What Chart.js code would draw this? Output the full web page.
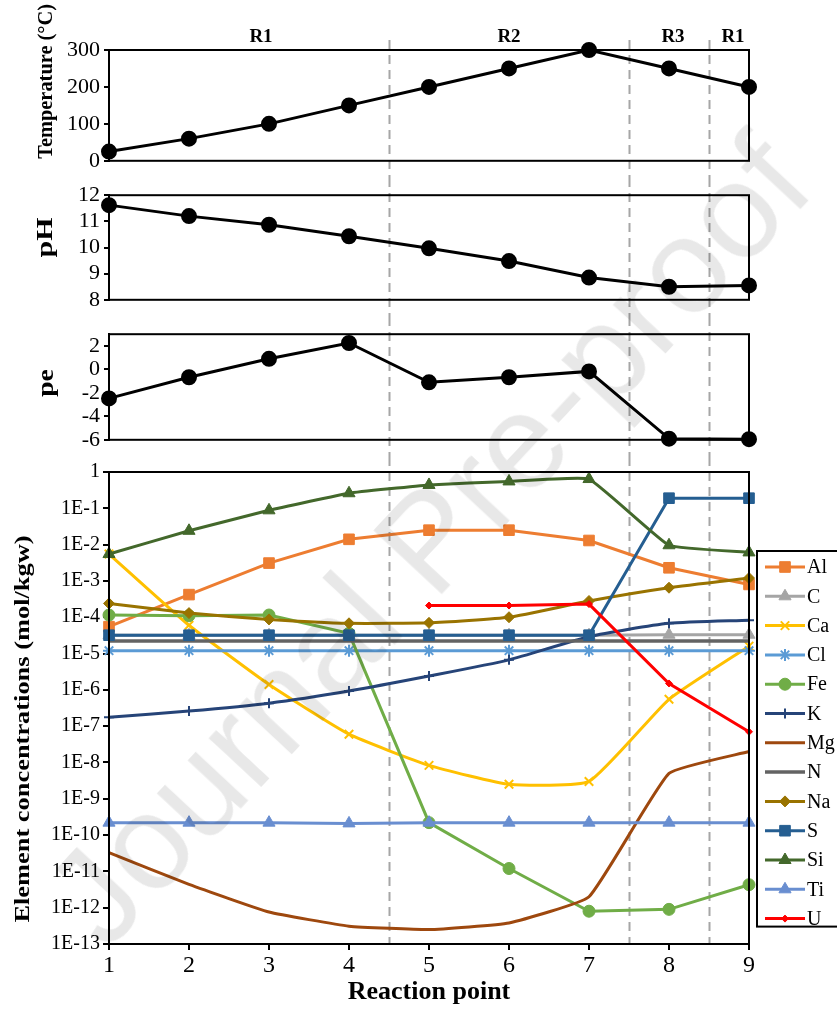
<!DOCTYPE html>
<html>
<head>
<meta charset="utf-8">
<script src="https://cdn.jsdelivr.net/npm/chart.js@4.4.1/dist/chart.umd.min.js"></script>
<style>
  html, body { margin: 0; padding: 0; background: #fff; }
  #wrap { position: relative; width: 837px; height: 1010px; overflow: hidden; }
  #wrap canvas { position: absolute; left: 0; }
  #mark {
    position: absolute; left: 428px; top: 540px;
    transform: translate(-50%, -50%) rotate(-47deg);
    font: 135px 'Liberation Sans', Arial, sans-serif;
    color: rgba(0, 0, 0, 0.09); white-space: nowrap; pointer-events: none;
  }
</style>
</head>
<body>
<div id="wrap">
  <canvas id="tempChart" width="837" height="178" style="top:0px"></canvas>
  <canvas id="phChart" width="837" height="139" style="top:178px"></canvas>
  <canvas id="peChart" width="837" height="140" style="top:317px"></canvas>
  <canvas id="concChart" width="837" height="553" style="top:457px"></canvas>
  <div id="mark">Journal Pre-proof</div>
</div>
<script>
// reaction points (x axis)
const reactionPoints = [1, 2, 3, 4, 5, 6, 7, 8, 9];
const xTicks = [1, 2, 3, 4, 5, 6, 7, 8, 9];

// region boundaries and labels
const regionBounds = [4.5, 7.5, 8.5];
const regionLabels = ['R1', 'R2', 'R3', 'R1'];
const regionLabelAt = [2.9, 6, 8.05, 8.8];

// upper panels
const temperature = [25, 60, 100, 150, 200, 250, 300, 250, 200];
const tempTicks = [0, 100, 200, 300];
const pH = [11.62, 11.2, 10.87, 10.43, 9.97, 9.48, 8.85, 8.5, 8.55];
const phTicks = [8, 9, 10, 11, 12];
const pe = [-2.47, -0.67, 0.9, 2.25, -1.1, -0.67, -0.17, -5.9, -5.95];
const peTicks = [-6, -4, -2, 0, 2];

// element concentrations (mol/kgw)
const elements = ['Al', 'C', 'Ca', 'Cl', 'Fe', 'K', 'Mg', 'N', 'Na', 'S', 'Si', 'Ti', 'U'];
const Al = [5.5e-5, 4.2e-4, 3.1e-3, 1.4e-2, 2.5e-2, 2.5e-2, 1.3e-2, 2.3e-3, 8e-4];
const C  = [3.2e-5, 3.2e-5, 3.2e-5, 3.2e-5, 3.2e-5, 3.2e-5, 3.2e-5, 3.3e-5, 3.3e-5];
const Ca = [5.5e-3, 6e-5, 1.4e-6, 6e-8, 8.3e-9, 2.5e-9, 3e-9, 5.5e-7, 1.6e-5];
const Cl = [1.2e-5, 1.2e-5, 1.2e-5, 1.2e-5, 1.2e-5, 1.2e-5, 1.2e-5, 1.2e-5, 1.2e-5];
const Fe = [1.15e-4, 1.1e-4, 1.15e-4, 3.6e-5, 2.2e-10, 1.2e-11, 8e-13, 9e-13, 4.3e-12];
const K  = [1.75e-7, 2.6e-7, 4.3e-7, 9.3e-7, 2.4e-6, 6.7e-6, 2.9e-5, 6.8e-5, 8.3e-5];
const Mg = [3.3e-11, 4.4e-12, 7.6e-13, 3.1e-13, 2.5e-13, 3.8e-13, 2e-12, 5e-9, 2e-8];
const N  = [2.2e-5, 2.2e-5, 2.2e-5, 2.2e-5, 2.2e-5, 2.2e-5, 2.2e-5, 2.2e-5, 2.2e-5];
const Na = [2.4e-4, 1.3e-4, 8.7e-5, 6.8e-5, 7e-5, 1e-4, 2.8e-4, 6.5e-4, 1.2e-3];
const S  = [3.2e-5, 3.2e-5, 3.2e-5, 3.2e-5, 3.2e-5, 3.2e-5, 3.2e-5, 0.19, 0.19];
const Si = [5.5e-3, 2.4e-2, 8.8e-2, 0.26, 0.44, 0.55, 0.64, 9.6e-3, 6.1e-3];
const Ti = [2.2e-10, 2.2e-10, 2.2e-10, 2.1e-10, 2.2e-10, 2.2e-10, 2.2e-10, 2.2e-10, 2.2e-10];
const U  = [null, null, null, null, 2.1e-4, 2.1e-4, 2.3e-4, 1.5e-6, 7e-8];
const concSeries = [Al, C, Ca, Cl, Fe, K, Mg, N, Na, S, Si, Ti, U];
const logTicks = [1, 1e-1, 1e-2, 1e-3, 1e-4, 1e-5, 1e-6, 1e-7, 1e-8, 1e-9, 1e-10, 1e-11, 1e-12, 1e-13];

// series styling
const elementColors = ['#ED7D31', '#A5A5A5', '#FFC000', '#5B9BD5', '#70AD47', '#264478', '#9E480E',
  '#636363', '#997300', '#255E91', '#43682B', '#698ED0', '#FF0000'];
const elementMarkers = ['rect', 'triangle', 'crossRot', 'star', 'circle', 'cross', 'circle',
  'circle', 'rectRot', 'rect', 'triangle', 'triangle', 'rectRot'];
const markerSizes = [7.5, 7, 6, 6, 6, 5, 0, 0, 5.5, 7.5, 7, 7, 3.5];
const lineTension = [0, 0, 0.15, 0, 0, 0.2, 0.12, 0, 0.15, 0, 0.1, 0, 0];

const serif = "'Liberation Serif', 'Times New Roman', serif";
Chart.defaults.font.family = serif;
Chart.defaults.color = '#000';

// dashed region boundaries, drawn across the whole canvas height
const regionLines = {
  id: 'regionLines',
  beforeDatasetsDraw(chart, args, opts) {
    const { ctx, chartArea, scales: { x } } = chart;
    const top = opts.fromTop != null ? chartArea.top - opts.fromTop : 0;
    const bottom = opts.toAxis ? chartArea.bottom : chart.height;
    ctx.save();
    ctx.strokeStyle = '#A6A6A6';
    ctx.lineWidth = 2;
    ctx.setLineDash([9, 6]);
    regionBounds.forEach(v => {
      const px = Math.round(x.getPixelForValue(v)) + 0.5;
      ctx.beginPath();
      ctx.moveTo(px, top);
      ctx.lineTo(px, bottom);
      ctx.stroke();
    });
    ctx.restore();
  }
};

// black box around each plot area
const frame = {
  id: 'frame',
  afterDatasetsDraw(chart) {
    const { ctx, chartArea: a } = chart;
    ctx.save();
    ctx.strokeStyle = '#000';
    ctx.lineWidth = 2;
    ctx.strokeRect(a.left, a.top, a.right - a.left, a.bottom - a.top);
    ctx.restore();
  }
};

// rotated y title, slightly stretched along its length like the original
const sideTitle = {
  id: 'sideTitle',
  afterDraw(chart, args, opts) {
    if (!opts.text) return;
    const { ctx, chartArea } = chart;
    const cy = (chartArea.top + chartArea.bottom) / 2 + (opts.dy || 0);
    ctx.save();
    ctx.translate(opts.x, cy);
    ctx.rotate(-Math.PI / 2);
    ctx.scale(opts.stretch || 1, 1);
    ctx.font = 'bold ' + opts.size + 'px ' + serif;
    ctx.fillStyle = '#000';
    ctx.textAlign = 'center';
    ctx.textBaseline = 'middle';
    ctx.fillText(opts.text, 0, 0);
    ctx.restore();
  }
};

// R1/R2/R3 labels above the top panel
const regionTitles = {
  id: 'regionTitles',
  afterDraw(chart) {
    const { ctx, chartArea, scales: { x } } = chart;
    ctx.save();
    ctx.font = 'bold 19px ' + serif;
    ctx.fillStyle = '#000';
    ctx.textAlign = 'center';
    ctx.textBaseline = 'middle';
    regionLabels.forEach((t, i) => {
      ctx.fillText(t, x.getPixelForValue(regionLabelAt[i]), chartArea.top - 13);
    });
    ctx.restore();
  }
};

// boxed legend to the right of the concentration panel
const boxLegend = {
  id: 'boxLegend',
  afterDraw(chart, args, opts) {
    const { ctx, chartArea } = chart;
    const left = chartArea.right + opts.offsetX;
    const top = chartArea.top + opts.offsetY;
    const n = chart.data.datasets.length;
    const h = opts.firstRow + (n - 1) * opts.rowHeight + opts.padBottom;
    ctx.save();
    ctx.fillStyle = '#fff';
    ctx.fillRect(left, top, 200, h);
    ctx.strokeStyle = '#000';
    ctx.lineWidth = 2;
    ctx.strokeRect(left, top, 200, h);
    ctx.font = '20px ' + serif;
    ctx.textBaseline = 'middle';
    chart.data.datasets.forEach((ds, i) => {
      const y = top + opts.firstRow + i * opts.rowHeight;
      ctx.strokeStyle = ds.borderColor;
      ctx.lineWidth = ds.borderWidth;
      ctx.beginPath();
      ctx.moveTo(left + 8, y);
      ctx.lineTo(left + 48, y);
      ctx.stroke();
      if (ds.pointRadius > 0) {
        ctx.fillStyle = ds.pointBackgroundColor;
        ctx.strokeStyle = ds.pointBorderColor;
        ctx.lineWidth = ds.pointBorderWidth;
        Chart.helpers.drawPoint(ctx, {
          pointStyle: ds.pointStyle, radius: ds.pointRadius,
          borderWidth: ds.pointBorderWidth, rotation: 0
        }, left + 28, y);
      }
      ctx.fillStyle = '#000';
      ctx.fillText(ds.label, left + 50, y + 1);
    });
    ctx.restore();
  }
};

function fixedY(width) {
  return s => { s.width = width; };
}

function xScale(show) {
  return {
    type: 'linear', min: 1, max: 9,
    display: show,
    afterBuildTicks: s => { s.ticks = xTicks.map(v => ({ value: v })); },
    afterFit: s => { if (show) s.height = 66; },
    grid: { drawOnChartArea: false, drawTicks: true, tickLength: 6, color: '#000', lineWidth: 2 },
    border: { color: '#000', width: 2 },
    ticks: { font: { size: 24 }, padding: 1, color: '#000', autoSkip: false, maxRotation: 0 },
    title: {
      display: show, text: 'Reaction point',
      font: { size: 26, weight: 'bold' }, padding: { top: 0, bottom: 2 }, color: '#000'
    }
  };
}

function yScale(min, max, tickValues, fontSize) {
  return {
    type: 'linear', min: min, max: max,
    afterBuildTicks: s => { s.ticks = tickValues.map(v => ({ value: v })); },
    afterFit: fixedY(109),
    grid: { drawOnChartArea: false, drawTicks: true, tickLength: 5, color: '#000', lineWidth: 2 },
    border: { color: '#000', width: 2 },
    ticks: { font: { size: fontSize }, padding: 4, color: '#000', autoSkip: false }
  };
}

function blackLine(label, values) {
  return {
    label: label,
    data: values,
    borderColor: '#000',
    backgroundColor: '#000',
    borderWidth: 3,
    pointRadius: 6.5,
    pointBackgroundColor: '#000',
    pointBorderColor: '#000',
    tension: 0,
    clip: false
  };
}

function panel(id, label, values, yOpts, padTop, padBottom, extra) {
  return new Chart(document.getElementById(id), {
    type: 'line',
    data: { datasets: [blackLine(label, values)] },
    options: {
      responsive: false,
      animation: false,
      events: [],
      layout: { padding: { top: padTop, bottom: padBottom, left: 0, right: 88 } },
      scales: { x: xScale(false), y: yOpts },
      plugins: Object.assign({ legend: { display: false }, tooltip: { enabled: false } }, extra.plugins)
    },
    plugins: extra.plugins_list
  });
}

// top panel: temperature
panel('tempChart', 'Temperature', reactionPoints.map((x, i) => ({ x: x, y: temperature[i] })),
  yScale(0, 300, tempTicks, 22), 50, 10, {
    plugins: {
      regionLines: { fromTop: 10 },
      sideTitle: { text: 'Temperature (\u00B0C)', x: 47, dy: -24, size: 20, stretch: 1.02 }
    },
    plugins_list: [regionLines, frame, sideTitle, regionTitles]
  });

// pH panel
panel('phChart', 'pH', reactionPoints.map((x, i) => ({ x: x, y: pH[i] })),
  yScale(8, 12, phTicks, 22), 9, 10, {
    plugins: { sideTitle: { text: 'pH', x: 46, dy: -10, size: 23, stretch: 1.3 } },
    plugins_list: [regionLines, frame, sideTitle]
  });

// pe panel
panel('peChart', 'pe', reactionPoints.map((x, i) => ({ x: x, y: pe[i] })),
  yScale(-6, 3, peTicks, 22), 10, 10, {
    plugins: { sideTitle: { text: 'pe', x: 47, dy: -4, size: 24, stretch: 1.15 } },
    plugins_list: [regionLines, frame, sideTitle]
  });

// element concentrations, log scale
const concDatasets = elements.map((name, i) => ({
  label: name,
  data: reactionPoints.map((x, j) => ({ x: x, y: concSeries[i][j] })),
  borderColor: elementColors[i],
  backgroundColor: elementColors[i],
  borderWidth: name === 'N' ? 3.5 : 3,
  pointStyle: elementMarkers[i],
  pointRadius: markerSizes[i],
  pointBackgroundColor: elementColors[i],
  pointBorderColor: elementColors[i],
  pointBorderWidth: (elementMarkers[i] === 'crossRot' || elementMarkers[i] === 'star' || elementMarkers[i] === 'cross') ? 2 : 1,
  tension: lineTension[i],
  spanGaps: false,
  order: elements.length - i,
  clip: false
}));

new Chart(document.getElementById('concChart'), {
  type: 'line',
  data: { datasets: concDatasets },
  options: {
    responsive: false,
    animation: false,
    events: [],
    layout: { padding: { top: 10, bottom: 0, left: 0, right: 88 } },
    scales: {
      x: xScale(true),
      y: {
        type: 'logarithmic', min: 1e-13, max: 1,
        afterBuildTicks: s => { s.ticks = logTicks.map(v => ({ value: v })); },
        afterFit: fixedY(109),
        grid: { drawOnChartArea: false, drawTicks: true, tickLength: 6, color: '#000', lineWidth: 2 },
        border: { color: '#000', width: 2 },
        ticks: {
          font: { size: 20 }, padding: 3, color: '#000', autoSkip: false,
          callback: v => v === 1 ? '1' : '1E' + Math.round(Math.log10(v))
        }
      }
    },
    plugins: {
      legend: { display: false },
      tooltip: { enabled: false },
      regionLines: { toAxis: true },
      sideTitle: { text: 'Element concentrations (mol/kgw)', x: 23, dy: 21, size: 22, stretch: 1.2 },
      boxLegend: { offsetX: 8, offsetY: 79, firstRow: 16, rowHeight: 29.3, padBottom: 8 }
    }
  },
  plugins: [regionLines, frame, sideTitle, boxLegend]
});
</script>
</body>
</html>
